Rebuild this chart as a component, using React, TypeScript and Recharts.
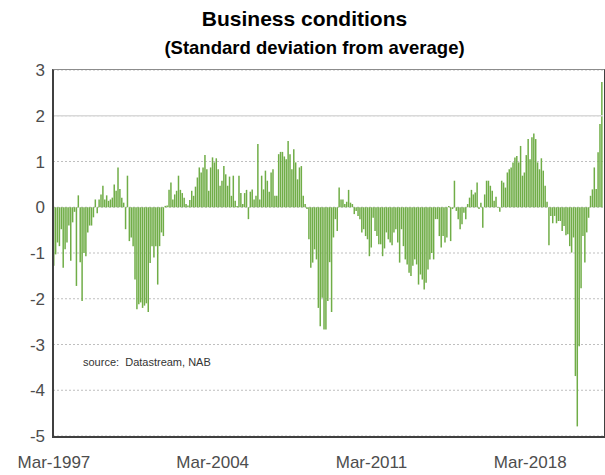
import * as React from "react";
import {
  BarChart,
  Bar,
  XAxis,
  YAxis,
  CartesianGrid,
  ReferenceLine,
} from "recharts";

/* NAB business conditions, std dev from average, monthly from Mar-1997 */
const conditions1997to1999 = [
  -1.28, -1.03, -0.77, -0.85, -0.48, -1.32, -0.92, -0.77, -0.4, -1.17,
  -0.33, -0.1, -1.72, 0.26, -1.2, -2.05, -1.0, -1.07, -0.55, -0.4, -0.4,
  -0.22, 0.17, -0.13, 0.17, 0.28, 0.47, 0.17, 0.26, 0.14, 0.17, 0.21, 0.5,
  0.36,
];
const conditions2000to2003 = [
  0.87, 0.4, 0.21, 0.1, -0.48, 0.69, -0.74, -0.66, -0.85, -1.58, -2.23,
  -2.12, -2.08, -2.2, -2.15, -2.1, -2.29, -1.22, -0.85, -1.1, -0.85, -1.69,
  -0.85, -0.55, -0.63, 0.03, 0.04, 0.38, 0.54, 0.17, 0.28, 0.36, 0.69, 0.38,
  0.31, 0.21, 0.07, 0.04, 0.16, 0.36, 0.25, 0.45, 0.65, 0.87, 0.76, 0.87,
  1.14, 0.83,
];
const conditions2004to2007 = [
  0.36, 0.87, 1.09, 0.98, 1.07, 0.83, 0.47, 0.58, 0.9, 0.72, 0.47, 0.67,
  0.25, 0.69, 0.14, 0.03, 0.69, 0.31, 0.07, 0.31, 0.38, -0.26, 0.34, 0.39,
  0.17, 0.25, 1.38, 0.17, 0.69, 0.39, 0.8, 0.58, 0.34, 0.76, 0.83, 0.25,
  0.25, 1.16, 1.21, 1.21, 1.11, 1.05, 1.45, 1.16, 0.83, 1.27, 0.98, 0.61,
];
const conditions2008to2011 = [
  0.87, 0.9, 0.25, 0.07, -0.04, -0.7, -1.32, -1.21, -0.92, -1.14, -2.2,
  -2.6, -1.98, -2.67, -2.67, -2.05, -1.2, -2.29, -0.66, -0.26, -0.52, 0.43,
  0.17, 0.17, 0.07, 0.12, 0.38, 0.1, 0.07, -0.15, -0.08, -0.19, -0.26,
  -0.55, -0.48, -0.63, -0.7, -1.07, -0.88, -0.23, -0.52, -0.63, -0.81,
  -0.81, -1.07, -0.9, -0.55, -0.7,
];
const conditions2012to2015 = [
  -0.77, -0.83, -0.55, -0.48, -0.77, -1.21, -0.48, -0.85, -1.14, -1.25,
  -1.43, -1.5, -1.28, -1.14, -1.25, -1.69, -1.47, -1.58, -1.8, -1.65, -1.36,
  -1.14, -1.0, -1.14, -0.26, -0.26, -0.63, -0.88, -0.63, -0.77, -0.66, 0.03,
  -0.74, -0.04, 0.58, -0.08, -0.26, -0.48, -0.37, -0.12, -0.26, 0.07, 0.21,
  0.38, 0.28, 0.32, 0.54, -0.04,
];
const conditions2016to2019 = [
  0.1, -0.45, 0.28, 0.58, 0.58, 0.47, 0.36, 0.14, 0.23, -0.01, -0.1, 0.58,
  0.54, 0.43, 0.76, 0.83, 0.87, 0.98, 1.09, 1.12, 0.98, 1.34, 0.69, 0.76,
  1.14, 1.49, 1.05, 1.53, 1.61, 1.49, 0.98, 0.83, 1.07, 0.8, 0.47, 0.12,
  -0.83, -0.19, -0.35, -0.19, -0.35, -0.3, -0.3, -0.52, -0.41, -0.61, -0.59,
  -0.85,
];
const conditions2020to2021 = [
  -0.99, -0.66, -3.69, -4.79, -3.04, -1.77, -0.63, -1.21, -0.55, -0.23,
  0.25, 0.39, 0.87, 0.4, 1.2, 1.82, 2.74,
];

const tickLabels = ["Mar-1997", "Mar-2004", "Mar-2011", "Mar-2018"];
const yTicks = [-5, -4, -3, -2, -1, 0, 1, 2, 3];

const MONTHS = ["Jan", "Feb", "Mar", "Apr", "May", "Jun", "Jul", "Aug", "Sep", "Oct", "Nov", "Dec"];
const monthLabel = (i: number) => {
  const n = 2 + i; // Mar-1997 = index 0
  return `${MONTHS[n % 12]}-${1997 + Math.floor(n / 12)}`;
};

const values = [
  ...conditions1997to1999,
  ...conditions2000to2003,
  ...conditions2004to2007,
  ...conditions2008to2011,
  ...conditions2012to2015,
  ...conditions2016to2019,
  ...conditions2020to2021,
];
const data = values.map((v, i) => ({ month: monthLabel(i), value: v }));

const FONT = "'Liberation Sans', Arial, sans-serif";
const W = 605;
const H = 475;
const PLOT = { left: 53, top: 70, right: 603, bottom: 436 };

export default function App() {
  return (
    <div
      style={{
        position: "absolute",
        left: 0,
        top: 0,
        width: W,
        height: H,
        background: "#fff",
        fontFamily: FONT,
      }}
    >
      <div
        style={{
          position: "absolute",
          left: 2,
          width: W,
          top: 8,
          textAlign: "center",
          fontWeight: "bold",
          fontSize: 21,
          lineHeight: "21px",
          color: "#000",
        }}
      >
        Business conditions
      </div>
      <div
        style={{
          position: "absolute",
          left: 12,
          width: W,
          top: 38,
          textAlign: "center",
          fontWeight: "bold",
          fontSize: 18.5,
          lineHeight: "19px",
          color: "#000",
        }}
      >
        (Standard deviation from average)
      </div>

      <BarChart
        width={W}
        height={H}
        data={data}
        margin={{ top: PLOT.top, right: W - PLOT.right, bottom: 9, left: 0 }}
        style={{ position: "absolute", left: 0, top: 0 }}
      >
        <CartesianGrid
          horizontal
          vertical={false}
          stroke="#bfbfbf"
          strokeDasharray="2 2"
        />
        <ReferenceLine y={2} stroke="#d9d9d9" strokeWidth={1.5} />
        <XAxis
          dataKey="month"
          ticks={tickLabels}
          interval={0}
          height={30}
          tickLine={false}
          axisLine={false}
          tickMargin={14}
          tick={{ fontSize: 17, fill: "#4d4d4d", fontFamily: FONT }}
        />
        <YAxis
          domain={[-5, 3]}
          ticks={yTicks}
          width={PLOT.left}
          tickLine={false}
          axisLine={false}
          interval={0}
          tick={{ fontSize: 17, fill: "#4d4d4d", fontFamily: FONT }}
        />
        <Bar
          dataKey="value"
          fill="#70AD47"
          barSize={1.5}
          isAnimationActive={false}
        />
      </BarChart>

      {/* plot frame */}
      <div
        style={{
          position: "absolute",
          left: PLOT.left - 1,
          top: PLOT.top - 1,
          width: PLOT.right - PLOT.left,
          height: PLOT.bottom - PLOT.top,
          borderTop: "1px solid #8c8c8c",
          borderRight: "1.5px solid #404040",
          borderLeft: "2px solid #404040",
          borderBottom: "2px solid #404040",
          pointerEvents: "none",
        }}
      />

      <div
        style={{
          position: "absolute",
          left: 83,
          top: 356,
          fontSize: 11,
          lineHeight: "12px",
          color: "#333",
        }}
      >
        source:&nbsp;&nbsp;Datastream, NAB
      </div>
    </div>
  );
}
